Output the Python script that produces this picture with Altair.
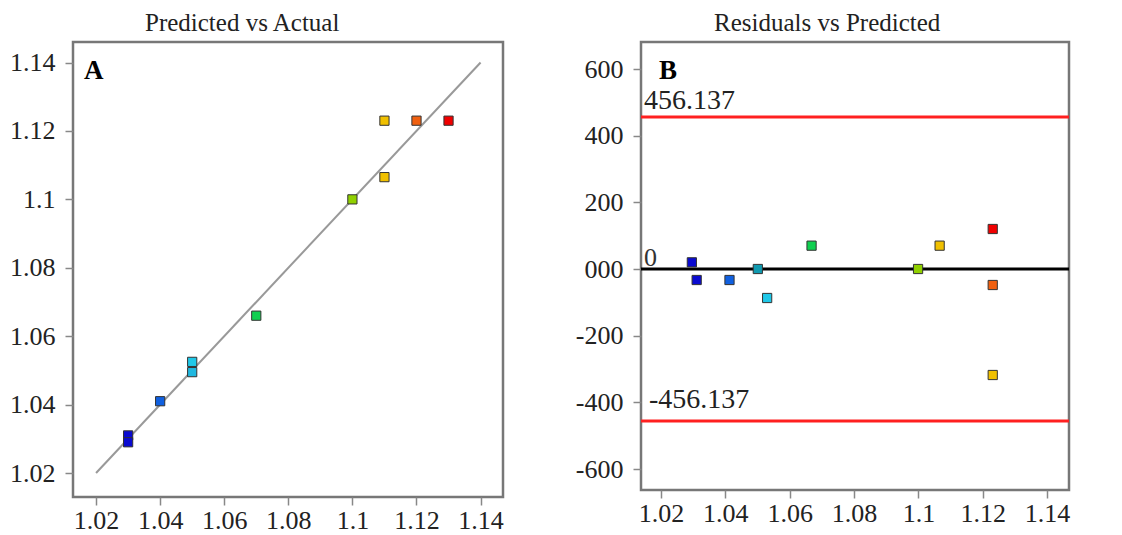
import altair as alt
import pandas as pd

# Panel A: Predicted vs Actual
actual = [1.03, 1.03, 1.04, 1.05, 1.05, 1.07, 1.10, 1.11, 1.11, 1.12, 1.13]
predicted = [1.031, 1.029, 1.041, 1.0525, 1.0495, 1.066, 1.100, 1.1065, 1.123, 1.123, 1.123]
colors_a = ["#0a0ad0", "#0a0ad0", "#1060e0", "#20c8e8", "#20b8e0", "#10d050",
            "#90d000", "#f0c000", "#f0c000", "#f06010", "#f00000"]

# Panel B: Residuals vs Predicted
pred_b = [1.0296, 1.0311, 1.0413, 1.0501, 1.053, 1.0668, 1.0999, 1.1066, 1.1231, 1.1231, 1.1231]
resid = [20, -33, -33, 0, -87, 70, 0, 70, 120, -48, -318]
colors_b = ["#0a0ad0", "#0a0ad0", "#1060e0", "#109ab0", "#20c8e8", "#10d050",
            "#90d000", "#f0c000", "#f00000", "#f06010", "#f0c000"]

diag = [1.02, 1.14]
limits = [456.137, -456.137]
tick_a = [1.02, 1.04, 1.06, 1.08, 1.10, 1.12, 1.14]
tick_b_y = [600, 400, 200, 0, -200, -400, -600]

FONT = "Liberation Serif"

df_a = pd.DataFrame({"actual": actual, "predicted": predicted, "color": colors_a})
df_diag = pd.DataFrame({"x": diag, "y": diag})
df_b = pd.DataFrame({"pred": pred_b, "resid": resid, "color": colors_b})
df_lim = pd.DataFrame({"y": limits})
df_zero = pd.DataFrame({"y": [0]})

axis_common = dict(
    grid=False, domain=False, labelFont=FONT, labelFontSize=26, labelColor="#222222",
    tickColor="#888888", tickSize=8, tickWidth=1.5, title=None,
)
x_axis = dict(axis_common, labelPadding=2)
y_axis = dict(axis_common, labelPadding=10)

xa_scale = alt.Scale(domain=[1.0128, 1.147], nice=False, zero=False)
ya_scale = alt.Scale(domain=[1.013, 1.146], nice=False, zero=False)

xa = alt.X("actual:Q", scale=xa_scale,
           axis=alt.Axis(values=tick_a, labelExpr="format(datum.value, '.2~f')", **x_axis))
ya = alt.Y("predicted:Q", scale=ya_scale,
           axis=alt.Axis(values=tick_a, labelExpr="format(datum.value, '.2~f')", **y_axis))

line_a = alt.Chart(df_diag).mark_line(color="#999999", strokeWidth=2).encode(
    x=alt.X("x:Q", scale=xa_scale), y=alt.Y("y:Q", scale=ya_scale),
)
pts_a = alt.Chart(df_a).mark_point(shape="square", filled=True, size=85, stroke="#333333",
                                   strokeWidth=1, opacity=1).encode(
    x=xa, y=ya, fill=alt.Fill("color:N", scale=None)
)
lab_a = alt.Chart(df_zero).mark_text(text="A", font=FONT, fontSize=27, fontWeight="bold",
                                     align="left", baseline="alphabetic", color="black").encode(
    x=alt.value(11), y=alt.value(37)
)

panel_a = alt.layer(line_a, pts_a, lab_a).properties(
    width=430, height=455,
    title=alt.TitleParams("Predicted vs Actual", font=FONT, fontSize=25, fontWeight="normal",
                          color="#222222", anchor="start", frame="group", dx=72, offset=6),
)

xb_scale = alt.Scale(domain=[1.0138, 1.1468], nice=False, zero=False)
yb_scale = alt.Scale(domain=[-663, 681], nice=False, zero=False)

xb = alt.X("pred:Q", scale=xb_scale,
           axis=alt.Axis(values=tick_a, labelExpr="format(datum.value, '.2~f')", **x_axis))
yb = alt.Y("resid:Q", scale=yb_scale,
           axis=alt.Axis(values=tick_b_y, labelExpr="datum.value == 0 ? '000' : '' + datum.value",
                         **y_axis))

zero_b = alt.Chart(df_zero).mark_rule(color="black", strokeWidth=3).encode(
    y=alt.Y("y:Q", scale=yb_scale)
)
lim_b = alt.Chart(df_lim).mark_rule(color="#ff2020", strokeWidth=3).encode(
    y=alt.Y("y:Q", scale=yb_scale)
)
up_txt = alt.Chart(df_lim.iloc[[0]]).mark_text(
    font=FONT, fontSize=28, align="left", baseline="alphabetic", dy=-8, color="#222222"
).encode(x=alt.value(3), y=alt.Y("y:Q", scale=yb_scale), text=alt.Text("y:Q", format=".3f"))
lo_txt = alt.Chart(df_lim.iloc[[1]]).transform_calculate(
    label="'-' + format(-datum.y, '.3f')"
).mark_text(
    font=FONT, fontSize=28, align="left", baseline="alphabetic", dy=-13, color="#222222"
).encode(x=alt.value(8), y=alt.Y("y:Q", scale=yb_scale), text=alt.Text("label:N"))
zero_txt = alt.Chart(df_zero).mark_text(
    font=FONT, fontSize=26, align="left", baseline="alphabetic", dy=-3, color="#333333"
).encode(x=alt.value(3), y=alt.Y("y:Q", scale=yb_scale), text=alt.Text("y:Q"))
pts_b = alt.Chart(df_b).mark_point(shape="square", filled=True, size=85, stroke="#333333",
                                   strokeWidth=1, opacity=1).encode(
    x=xb, y=yb, fill=alt.Fill("color:N", scale=None)
)
lab_b = alt.Chart(df_zero).mark_text(text="B", font=FONT, fontSize=27, fontWeight="bold",
                                     align="left", baseline="alphabetic", color="black").encode(
    x=alt.value(18), y=alt.value(37)
)

panel_b = alt.layer(zero_b, lim_b, up_txt, lo_txt, zero_txt, pts_b, lab_b).properties(
    width=428, height=448,
    title=alt.TitleParams("Residuals vs Predicted", font=FONT, fontSize=25, fontWeight="normal",
                          color="#222222", anchor="start", frame="group", dx=73, offset=6),
)

chart = alt.hconcat(panel_a, panel_b, spacing=69).properties(
    padding={"left": 0, "top": 1, "right": 5, "bottom": 0}
).configure_view(stroke="#777777", strokeWidth=2.5)

chart.save("out.html", embed_options={"renderer": "svg", "actions": False})
